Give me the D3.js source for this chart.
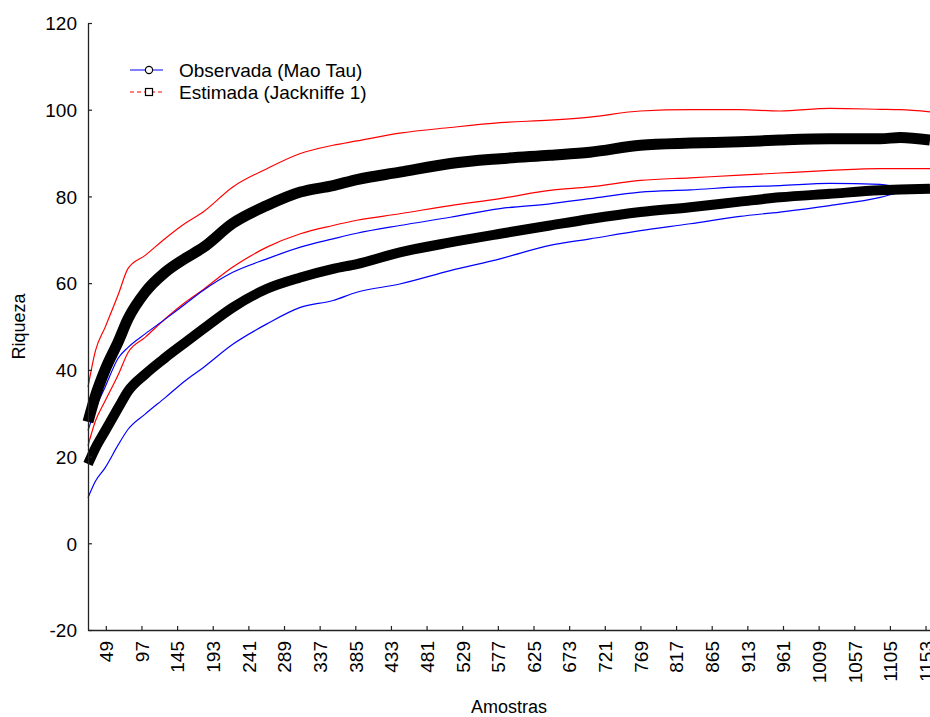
<!DOCTYPE html>
<html>
<head>
<meta charset="utf-8">
<script src="https://cdn.jsdelivr.net/npm/d3@7"></script>
<style>
  body { margin: 0; background: #fff; }
  text { font-family: "Liberation Sans", Arial, sans-serif; }
</style>
</head>
<body>
<div id="chart"></div>
<script>
// amostras (x) and the six series
var amostras = [25, 35, 48, 66, 79, 102, 129, 156, 180, 220, 266, 311, 355, 387, 445, 513, 580, 647, 701, 769, 836, 903, 957, 1024, 1092, 1119, 1159];

var obsMedia = [18.3, 22, 25.9, 31.3, 35.1, 39, 42.8, 46.3, 49.4, 54.4, 58.7, 61.3, 63.3, 64.4, 67.1, 69.4, 71.4, 73.3, 74.8, 76.4, 77.5, 78.8, 79.8, 80.6, 81.4, 81.6, 81.8];
var obsSup   = [26, 31, 36, 42.8, 45.2, 48.3, 51.7, 55.2, 58.3, 62.5, 65.6, 68.3, 70.2, 71.5, 73.3, 75.2, 77.2, 78.3, 79.5, 81, 81.5, 82.2, 82.5, 83, 82.8, 82.1, 81.8];
var obsInf   = [10.5, 14.3, 17.4, 22.8, 26.3, 29.8, 33.6, 37.5, 40.5, 45.9, 50.6, 54.4, 56, 57.9, 59.8, 62.9, 65.6, 68.7, 70.2, 72.1, 73.7, 75.4, 76.4, 77.9, 79.8, 81, 81.8];

var estMedia = [28, 34, 40, 46.6, 51.8, 57.9, 62.5, 65.7, 68.2, 73.8, 77.9, 81, 82.5, 83.9, 85.6, 87.6, 88.7, 89.5, 90.2, 91.8, 92.3, 92.6, 93, 93.3, 93.3, 93.6, 93];
var estSup   = [36, 44.4, 49.8, 57.5, 63.4, 66.4, 70.3, 73.8, 76.4, 82.2, 86.4, 89.9, 91.8, 92.8, 94.6, 95.9, 97, 97.6, 98.3, 99.7, 100, 100, 99.7, 100.3, 100.1, 100, 99.5];
var estInf   = [22.5, 28.2, 32.8, 39, 44, 47.5, 51.8, 55.6, 58.5, 63.7, 68.3, 71.4, 73.3, 74.5, 76, 77.9, 79.5, 81.4, 82.2, 83.7, 84.3, 84.9, 85.4, 86, 86.4, 86.4, 86.4];

var xTicks = d3.range(49, 1160, 48);
var yTicks = [-20, 0, 20, 40, 60, 80, 100, 120];

var margin = {top: 23, right: 0, bottom: 87, left: 88},
    width = 930 - margin.left - margin.right,
    height = 717 - margin.top - margin.bottom;

var svg = d3.select("#chart").append("svg")
    .attr("width", 930)
    .attr("height", 717)
    .append("g")
    .attr("transform", "translate(" + margin.left + "," + margin.top + ")");

var x = d3.scaleLinear().domain([25, 1159]).range([0, width]);
var y = d3.scaleLinear().domain([-20, 120]).range([height, 0]);

function serie(vals) {
    return amostras.map(function(a, i) { return [a, vals[i]]; });
}

var line = d3.line()
    .x(function(d) { return x(d[0]); })
    .y(function(d) { return y(d[1]); })
    .curve(d3.curveMonotoneX);

// confidence limits
[[estSup, "#ff0000"], [estInf, "#ff0000"], [obsSup, "#0000ff"], [obsInf, "#0000ff"]].forEach(function(s) {
    svg.append("path")
        .datum(serie(s[0]))
        .attr("fill", "none")
        .attr("stroke", s[1])
        .attr("stroke-width", 1.2)
        .attr("d", line);
});

// dense marker bands (overlapping markers read as a thick black band)
svg.append("path")
    .datum(serie(estMedia))
    .attr("fill", "none")
    .attr("stroke", "#000")
    .attr("stroke-width", 11)
    .attr("d", line);

svg.append("path")
    .datum(serie(obsMedia))
    .attr("fill", "none")
    .attr("stroke", "#000")
    .attr("stroke-width", 10)
    .attr("d", line);

// axes
var fmt = function(d) { return String(d); };

var yAxis = svg.append("g")
    .call(d3.axisLeft(y)
        .tickValues(yTicks)
        .tickFormat(fmt)
        .tickSizeInner(-4)
        .tickSizeOuter(0)
        .tickPadding(11));

var xAxis = svg.append("g")
    .attr("transform", "translate(0," + height + ")")
    .call(d3.axisBottom(x)
        .tickValues(xTicks)
        .tickFormat(fmt)
        .tickSizeInner(-4)
        .tickSizeOuter(0));

[yAxis, xAxis].forEach(function(a) {
    a.select(".domain").attr("stroke", "#222").attr("stroke-width", 1.3);
    a.selectAll(".tick line").attr("stroke", "#222").attr("stroke-width", 1.2);
    a.selectAll("text").attr("fill", "#000").style("font-size", "19px");
});

yAxis.selectAll("text").attr("dy", "0.36em");

xAxis.selectAll("text")
    .attr("transform", "rotate(-90)")
    .attr("x", -11)
    .attr("y", 0)
    .attr("dy", "0.36em")
    .style("text-anchor", "end");

svg.append("text")
    .attr("transform", "translate(" + (-63) + "," + (height / 2) + ") rotate(-90)")
    .style("text-anchor", "middle")
    .style("font-size", "18px")
    .text("Riqueza");

svg.append("text")
    .attr("x", width / 2)
    .attr("y", height + 83)
    .style("text-anchor", "middle")
    .style("font-size", "18px")
    .text("Amostras");

// legend
var legend = svg.append("g").attr("transform", "translate(42,47)");

legend.append("line")
    .attr("x1", 0).attr("x2", 33).attr("y1", 0).attr("y2", 0)
    .attr("stroke", "#0000ff").attr("stroke-width", 1.2);
legend.append("circle")
    .attr("cx", 19).attr("cy", 0).attr("r", 3.6)
    .attr("fill", "#fff").attr("stroke", "#000").attr("stroke-width", 1.2);
legend.append("text")
    .attr("x", 49).attr("y", 0).attr("dy", "0.36em")
    .style("font-size", "19px")
    .text("Observada (Mao Tau)");

legend.append("line")
    .attr("x1", 0).attr("x2", 33).attr("y1", 22).attr("y2", 22)
    .attr("stroke", "#ff0000").attr("stroke-width", 1.2)
    .attr("stroke-dasharray", "4,3");
legend.append("rect")
    .attr("x", 15.5).attr("y", 18.5).attr("width", 7).attr("height", 7)
    .attr("fill", "#fff").attr("stroke", "#000").attr("stroke-width", 1.2);
legend.append("text")
    .attr("x", 49).attr("y", 22).attr("dy", "0.36em")
    .style("font-size", "19px")
    .text("Estimada (Jackniffe 1)");
</script>
</body>
</html>
